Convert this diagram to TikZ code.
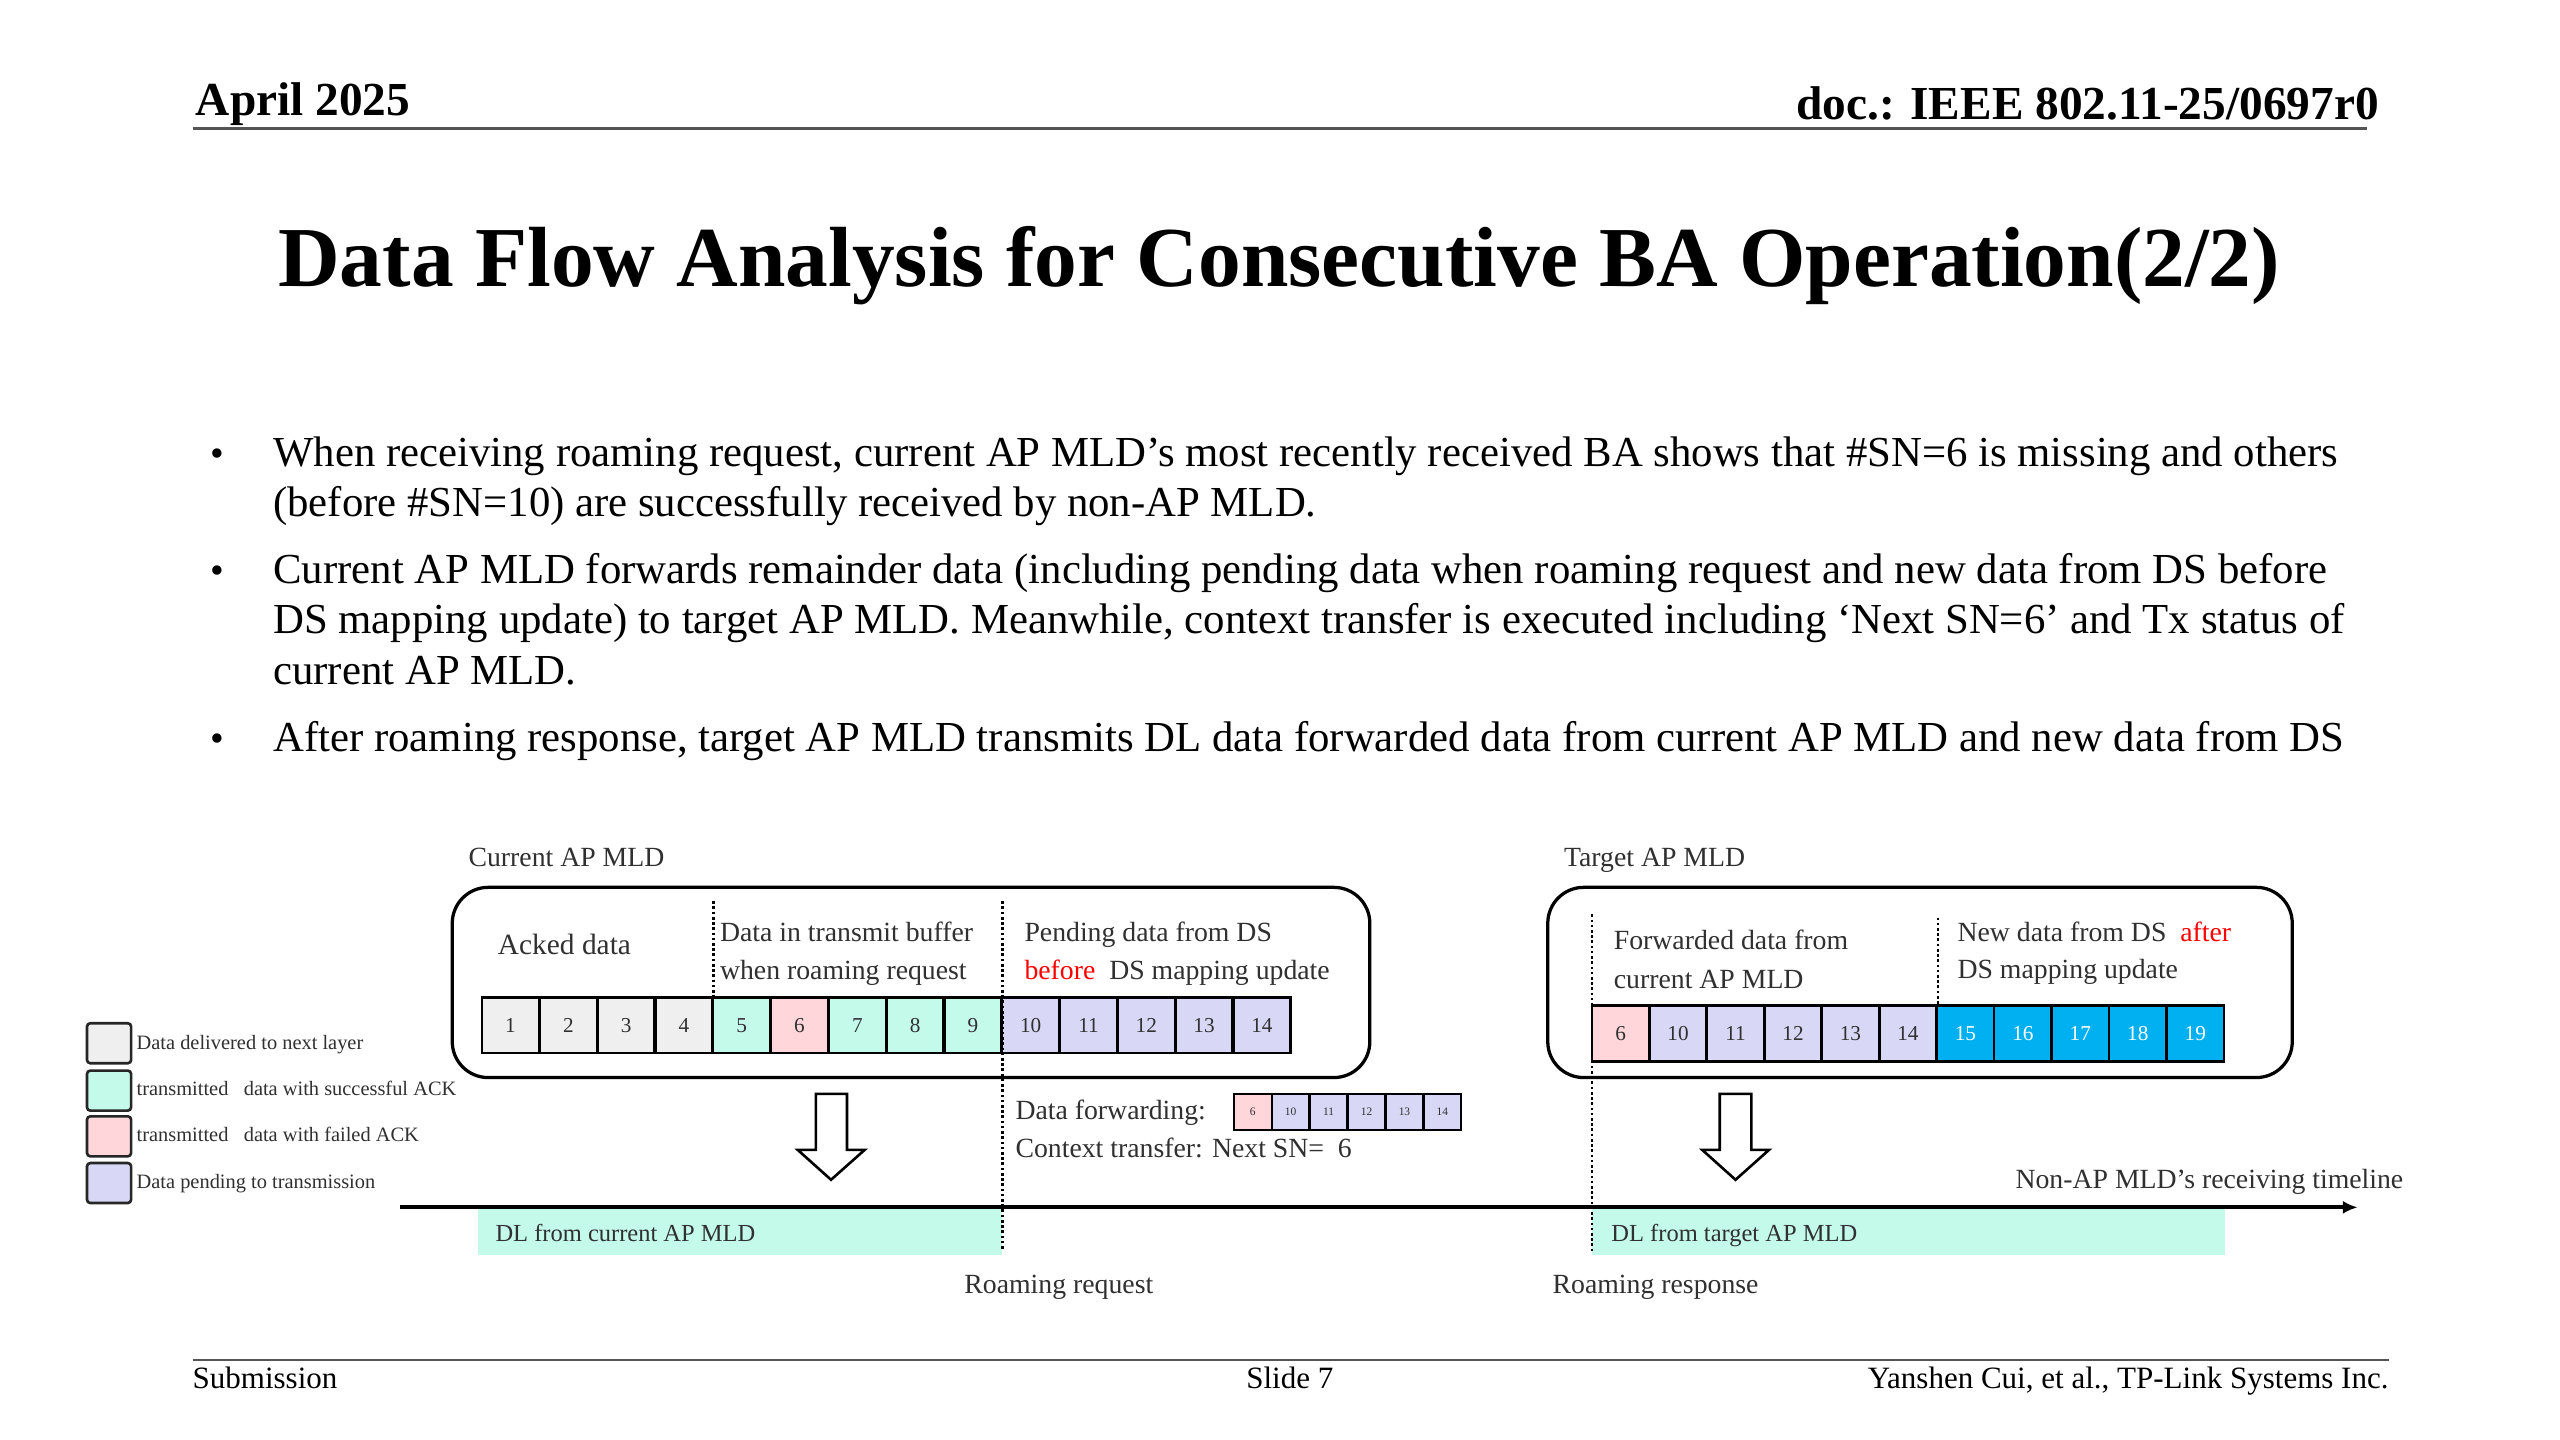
\documentclass[tikz,border=0pt]{standalone}
\usepackage{fontspec}
\setmainfont{Liberation Serif}
\usetikzlibrary{arrows.meta}
\definecolor{ackgray}{HTML}{EFEFEF}
\definecolor{okgreen}{HTML}{C4FAE9}
\definecolor{failpink}{HTML}{FFD6DA}
\definecolor{pendlav}{HTML}{D8D8F6}
\definecolor{newblue}{HTML}{00B0F0}
\definecolor{txtgray}{HTML}{303030}
\definecolor{rulegray}{HTML}{555555}
\tikzset{
  every node/.style={inner sep=0pt, outer sep=0pt},
  hdr/.style={font=\bfseries\fontsize{29}{29}\selectfont},
  ttl/.style={font=\bfseries\fontsize{52.3}{52.3}\selectfont},
  body/.style={font=\fontsize{26.2}{26.2}\selectfont, anchor=base west},
  bul/.style={font=\fontsize{24}{24}\selectfont, anchor=base},
  foot/.style={font=\fontsize{19}{19}\selectfont},
  lbl/.style={font=\fontsize{17}{17}\selectfont, text=txtgray, anchor=base west},
  dl/.style={font=\fontsize{15}{15}\selectfont, text=txtgray, anchor=base west},
  lgd/.style={font=\fontsize{12.5}{12.5}\selectfont, text=txtgray, anchor=base west},
  cellbox/.style={draw=black, line width=1.6pt, minimum width=35.05pt, minimum height=34pt,
    font=\fontsize{13}{13}\selectfont, text=txtgray},
  tcellbox/.style={cellbox, minimum width=35.2pt},
  scellbox/.style={draw=black, line width=1.3pt, minimum width=23.2pt, minimum height=22pt,
    font=\fontsize{7}{7}\selectfont, text=txtgray},
  lgbox/.style={draw=black!85, line width=1.6pt, rounded corners=2pt, minimum width=27pt, minimum height=24.5pt},
  mldbox/.style={draw=black, line width=2pt, rounded corners=22pt},
  dotln/.style={line width=1.6pt, dash pattern=on 1.6pt off 1.6pt},
  blockarrow/.style={draw=black, line width=1.6pt, fill=white, line join=miter},
  dlbar/.style={fill=okgreen, draw=none},
}
\begin{document}
\begin{tikzpicture}[x=1pt, y=-1pt]
\useasboundingbox (0,0) rectangle (1568,882);
\fill[white] (0,0) rectangle (1568,882);
% header
\node[hdr, anchor=base west] (date) at (120,70.5) {April 2025};
\node[hdr, anchor=base east] (doc) at (1457,73.5) {doc.: IEEE 802.11-25/0697r0};
\coordinate (hl1) at (118,78.5); \coordinate (hl2) at (1450,78.5);
\draw[rulegray, line width=2pt] (hl1) -- (hl2);
% title
\node[ttl, anchor=base] (title) at (783.5,175.6) {Data Flow Analysis for Consecutive BA Operation(2/2)};
% bullets
\node[bul] (b1) at (133,285.8) {•};
\node[body] (t1a) at (167.4,285.8) {When receiving roaming request, current AP MLD’s most recently received BA shows that \#SN=6 is missing and others};
\node[body] (t1b) at (167.4,316.4) {(before \#SN=10) are successfully received by non-AP MLD.};
\node[bul] (b2) at (133,357.2) {•};
\node[body] (t2a) at (167.4,357.2) {Current AP MLD forwards remainder data (including pending data when roaming request and new data from DS before};
\node[body] (t2b) at (167.4,388.2) {DS mapping update) to target AP MLD. Meanwhile, context transfer is executed including ‘Next SN=6’ and Tx status of};
\node[body] (t2c) at (167.4,419.4) {current AP MLD.};
\node[bul] (b3) at (133,460.5) {•};
\node[body] (t3a) at (167.4,460.5) {After roaming response, target AP MLD transmits DL data forwarded data from current AP MLD and new data from DS};
% footer
\coordinate (fl1) at (118,833); \coordinate (fl2) at (1463,833);
\draw[rulegray, line width=1.6pt] (fl1) -- (fl2);
\node[foot, anchor=base west] (sub) at (118,850.5) {Submission};
\node[foot, anchor=base] (slide) at (790,850.5) {Slide 7};
\node[foot, anchor=base east] (auth) at (1463,850.5) {Yanshen Cui, et al., TP-Link Systems Inc.};

% ---------- diagram ----------
% DL bars
\fill[dlbar] (293,740.5) rectangle (613.5,768.5);
\fill[dlbar] (975,740.5) rectangle (1363,768.5);
% MLD boxes
\draw[mldbox] (277,543.5) rectangle (839,660);
\draw[mldbox] (948,543.5) rectangle (1404,660);
\node[lbl] (curlbl) at (287,531) {Current AP MLD};
\node[lbl] (tgtlbl) at (958,531) {Target AP MLD};
% current AP cells
\foreach \n/\c [count=\i from 0] in {1/ackgray,2/ackgray,3/ackgray,4/ackgray,5/okgreen,6/failpink,7/okgreen,8/okgreen,9/okgreen,10/pendlav,11/pendlav,12/pendlav,13/pendlav,14/pendlav}
  \node[cellbox, fill=\c] (cur\n) at ({295+35.4*\i+17.7},628) {\n};
% target AP cells
\foreach \n/\c [count=\i from 0] in {6/failpink,10/pendlav,11/pendlav,12/pendlav,13/pendlav,14/pendlav}
  \node[tcellbox, fill=\c] (tg\n) at ({975+35.2*\i+17.6},633) {\n};
\foreach \n [count=\i from 6] in {15,16,17,18,19}
  \node[tcellbox, fill=newblue, text=white] (tg\n) at ({975+35.2*\i+17.6},633) {\n};
% forwarded cells
\foreach \n/\c [count=\i from 0] in {6/failpink,10/pendlav,11/pendlav,12/pendlav,13/pendlav,14/pendlav}
  \node[scellbox, fill=\c] (fw\n) at ({755.6+23.25*\i+11.625},681) {\n};
% region labels
\node[lbl, font=\fontsize{18}{18}\selectfont] (acked) at (305,584.8) {Acked data};
\node[lbl] (buf1) at (441,576.7) {Data in transmit buffer};
\node[lbl] (buf2) at (441,600) {when roaming request};
\node[lbl] (pend1) at (627.5,576.7) {Pending data from DS};
\node[lbl] (pend2) at (627.5,600) {\textcolor{red}{before}\ \ DS mapping update};
\node[lbl] (fwd1) at (988.5,581.8) {Forwarded data from};
\node[lbl] (fwd2) at (988.5,605.2) {current AP MLD};
\node[lbl] (new1) at (1199,576.7) {New data from DS\ \ \textcolor{red}{after}};
\node[lbl] (new2) at (1199,599.5) {DS mapping update};
% dotted separators
\coordinate (d1t) at (437,552); \coordinate (d1b) at (437,611);
\coordinate (d2t) at (614,552); \coordinate (d2b) at (614,766);
\coordinate (d3t) at (975,560); \coordinate (d3b) at (975,766);
\coordinate (d4t) at (1187,562); \coordinate (d4b) at (1187,616);
\draw[dotln] (d1t) -- (d1b);
\draw[dotln] (d2t) -- (d2b);
\draw[dotln] (d3t) -- (d3b);
\draw[dotln] (d4t) -- (d4b);
% forwarding text
\node[lbl] (fwdtxt) at (622,685.9) {Data forwarding:};
\node[lbl] (ctxt) at (622,708.8) {Context transfer: Next SN=\ \ 6};
% block arrows
\draw[blockarrow] (499.7,670) -- (518.8,670) -- (518.8,704.3) -- (529.6,704.3) -- (509,722.6) -- (488.6,704.3) -- (499.7,704.3) -- cycle;
\draw[blockarrow] (1053.3,670) -- (1072.7,670) -- (1072.7,704.3) -- (1083.5,704.3) -- (1063,722.6) -- (1042.6,704.3) -- (1053.3,704.3) -- cycle;
% timeline
\coordinate (tls) at (245,739.5); \coordinate (tle) at (1444,739.5);
\draw[line width=2.5pt, -{Latex[length=9pt,width=8pt]}] (tls) -- (tle);
\node[lbl, anchor=base east] (tllbl) at (1472,727.8) {Non-AP MLD’s receiving timeline};
\node[dl] (dlcur) at (303.5,760.4) {DL from current AP MLD};
\node[dl] (dltgt) at (987,760.4) {DL from target AP MLD};
\node[lbl] (rreq) at (590.7,792) {Roaming request};
\node[lbl] (rresp) at (951,792) {Roaming response};
% legend
\node[lgbox, fill=ackgray] (lg1) at (66.8,639) {};
\node[lgbox, fill=okgreen] (lg2) at (66.8,668) {};
\node[lgbox, fill=failpink] (lg3) at (66.8,696) {};
\node[lgbox, fill=pendlav] (lg4) at (66.8,724.6) {};
\node[lgd] (lgt1) at (83.7,643) {Data delivered to next layer};
\node[lgd] (lgt2) at (83.7,671.2) {transmitted\ \ \ data with successful ACK};
\node[lgd] (lgt3) at (83.7,699.1) {transmitted\ \ \ data with failed ACK};
\node[lgd] (lgt4) at (83.7,727.7) {Data pending to transmission};
\end{tikzpicture}
\end{document}
